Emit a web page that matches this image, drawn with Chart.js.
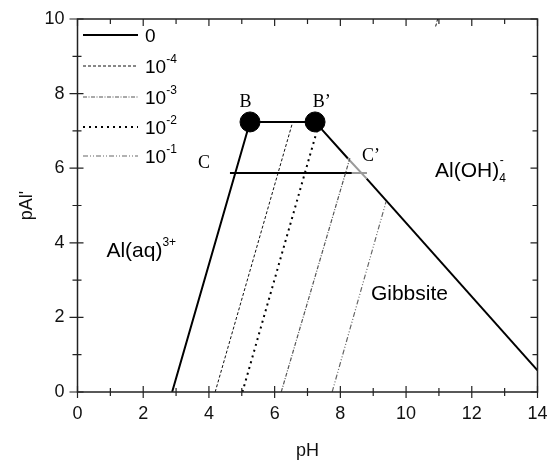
<!DOCTYPE html>
<html>
<head>
<meta charset="utf-8">
<script src="https://cdn.jsdelivr.net/npm/chart.js@4.4.1/dist/chart.umd.min.js"></script>
<style>
  html, body { margin: 0; padding: 0; background: #fff; }
  #wrap { width: 550px; height: 463px; }
</style>
</head>
<body>
<div id="wrap"><canvas id="c" width="550" height="463"></canvas></div>
<script>
// Al solubility boundaries: pAl' versus pH
const xTicks = [0, 2, 4, 6, 8, 10, 12, 14];
const yTicks = [0, 2, 4, 6, 8, 10];

// total ligand 0: Al3+ / gibbsite / Al(OH)4- boundary
const pH0a  = [2.88, 5.25, 7.23, 8.23];
const pAl0a = [0, 7.24, 7.24, 6.26];
const pH0b  = [8.80, 14];
const pAl0b = [5.72, 0.58];

// line C - C'
const pHC   = [4.64, 8.35];
const pAlC  = [5.87, 5.87];
const pHCg  = [8.35, 8.81];
const pAlCg = [5.87, 5.87];
const pHDg  = [8.23, 8.80];
const pAlDg = [6.26, 5.72];

// other ligand concentrations
const pH1e4  = [4.19, 6.55];
const pAl1e4 = [0, 7.24];
const pH1e3  = [6.20, 8.29];
const pAl1e3 = [0, 6.27];
const pH1e2  = [5.02, 7.28];
const pAl1e2 = [0, 6.98];
const pH1e1  = [7.75, 9.39];
const pAl1e1 = [0, 5.10];
const pHTop  = [10.90, 10.96];
const pAlTop = [9.80, 10.0];

// points B and B'
const pHB  = [5.25, 7.23];
const pAlB = [7.24, 7.24];

const pts = (xs, ys) => xs.map((x, i) => ({ x: x, y: ys[i] }));

const styles = {
  s0:   { color: '#000', width: 2,   dash: [] },
  s1e4: { color: '#111', width: 1,   dash: [3, 2] },
  s1e3: { color: '#555', width: 1.2, dash: [4, 1.5, 1, 1.5] },
  s1e2: { color: '#000', width: 2,   dash: [2, 4] },
  s1e1: { color: '#666', width: 1.2, dash: [5, 2, 1, 2, 1, 2] },
  gray: { color: '#9a9a9a', width: 2, dash: [] }
};

function lineSet(xs, ys, st) {
  return {
    data: pts(xs, ys),
    borderColor: st.color,
    borderWidth: st.width,
    borderDash: st.dash,
    pointRadius: 0,
    fill: false,
    tension: 0
  };
}

const datasets = [
  lineSet(pH1e4, pAl1e4, styles.s1e4),
  lineSet(pH1e3, pAl1e3, styles.s1e3),
  lineSet(pH1e2, pAl1e2, styles.s1e2),
  lineSet(pH1e1, pAl1e1, styles.s1e1),
  lineSet(pHTop, pAlTop, styles.s1e4),
  lineSet(pHCg, pAlCg, styles.gray),
  lineSet(pHDg, pAlDg, styles.gray),
  lineSet(pHC, pAlC, styles.s0),
  lineSet(pH0a, pAl0a, styles.s0),
  lineSet(pH0b, pAl0b, styles.s0),
  {
    data: pts(pHB, pAlB),
    showLine: false,
    pointRadius: 10,
    pointHoverRadius: 10,
    pointBackgroundColor: '#000',
    pointBorderColor: '#000'
  }
];

const legendItems = [
  { st: styles.s0,   base: '0',  sup: '' },
  { st: styles.s1e4, base: '10', sup: '-4' },
  { st: styles.s1e3, base: '10', sup: '-3' },
  { st: styles.s1e2, base: '10', sup: '-2' },
  { st: styles.s1e1, base: '10', sup: '-1' }
];

const SANS = "'Liberation Sans', Arial, sans-serif";
const SERIF = "'Liberation Serif', 'Times New Roman', serif";

function textWithScripts(ctx, x, y, parts) {
  // parts: [{t, size, dy, gap}] drawn left to right from x, baseline y
  let cx = x;
  parts.forEach(p => {
    ctx.font = p.size + 'px ' + SANS;
    ctx.fillText(p.t, cx, y + (p.dy || 0));
    cx += ctx.measureText(p.t).width + (p.gap || 0);
  });
}

const decor = {
  id: 'decor',
  afterDatasetsDraw(chart) {
    const ctx = chart.ctx;
    const a = chart.chartArea;
    const xs = chart.scales.x, ys = chart.scales.y;
    ctx.save();
    ctx.strokeStyle = '#222';
    ctx.lineWidth = 1.5;
    ctx.setLineDash([]);
    ctx.strokeRect(a.left, a.top, a.right - a.left, a.bottom - a.top);

    // tick marks
    ctx.lineWidth = 1.2;
    ctx.beginPath();
    for (let v = 0; v <= 14; v++) {
      const px = xs.getPixelForValue(v);
      const major = v % 2 === 0;
      ctx.moveTo(px, a.bottom - (major ? 6 : 4));
      ctx.lineTo(px, a.bottom + (major ? 6 : 4));
      ctx.moveTo(px, a.top);
      ctx.lineTo(px, a.top + (major ? 7 : 5));
    }
    for (let v = 0; v <= 10; v++) {
      const py = ys.getPixelForValue(v);
      const major = v % 2 === 0;
      ctx.moveTo(a.left - (major ? 8 : 5), py);
      ctx.lineTo(a.left + (major ? 6 : 4), py);
      ctx.moveTo(a.right, py);
      ctx.lineTo(a.right - (major ? 7 : 5), py);
    }
    ctx.stroke();

    // axis titles
    ctx.fillStyle = '#111';
    ctx.font = '18px ' + SANS;
    ctx.textAlign = 'center';
    ctx.textBaseline = 'middle';
    ctx.fillText('pH', (a.left + a.right) / 2, 451);
    ctx.save();
    ctx.translate(27, (a.top + a.bottom) / 2);
    ctx.rotate(-Math.PI / 2);
    ctx.fillText("pAl'", 0, 0);
    ctx.restore();

    // legend
    ctx.textAlign = 'left';
    ctx.textBaseline = 'alphabetic';
    const rows = [35, 66, 97, 127, 156];
    legendItems.forEach((it, i) => {
      const y = rows[i];
      ctx.strokeStyle = it.st.color;
      ctx.lineWidth = it.st.width;
      ctx.setLineDash(it.st.dash);
      ctx.beginPath();
      ctx.moveTo(83, y);
      ctx.lineTo(138, y);
      ctx.stroke();
      ctx.setLineDash([]);
      ctx.fillStyle = '#000';
      const parts = [{ t: it.base, size: 19 }];
      if (it.sup) parts.push({ t: it.sup, size: 12, dy: -10 });
      textWithScripts(ctx, 145, y + 7, parts);
    });

    // region and point labels
    const px = v => xs.getPixelForValue(v);
    const py = v => ys.getPixelForValue(v);
    ctx.fillStyle = '#000';
    ctx.font = '18px ' + SERIF;
    ctx.textAlign = 'center';
    ctx.textBaseline = 'middle';
    ctx.fillText('B', px(5.11), py(7.76));
    ctx.fillText('B\u2019', px(7.43), py(7.76));
    ctx.fillText('C', px(3.85), py(6.14));
    ctx.fillText('C\u2019', px(8.93), py(6.33));

    ctx.textAlign = 'left';
    ctx.textBaseline = 'alphabetic';
    textWithScripts(ctx, px(10.88), py(5.77), [
      { t: 'Al(OH)', size: 21 },
      { t: '4', size: 12, dy: 5, gap: -6 },
      { t: '-', size: 12, dy: -13 }
    ]);
    textWithScripts(ctx, px(0.88), py(3.63), [
      { t: 'Al(aq)', size: 21 },
      { t: '3+', size: 12, dy: -11 }
    ]);
    textWithScripts(ctx, px(8.93), py(2.47), [{ t: 'Gibbsite', size: 21 }]);
    ctx.restore();
  }
};

new Chart(document.getElementById('c'), {
  type: 'line',
  data: { datasets: datasets },
  options: {
    responsive: false,
    animation: false,
    events: [],
    layout: { padding: { top: 19, right: 12.5, left: 0, bottom: 0 } },
    plugins: { legend: { display: false }, tooltip: { enabled: false } },
    scales: {
      x: {
        type: 'linear',
        min: 0, max: 14,
        afterFit: s => { s.height = 71; s.paddingLeft = 0; s.paddingRight = 0; },
        afterBuildTicks: s => { s.ticks = xTicks.map(v => ({ value: v })); },
        grid: { display: false, drawTicks: false },
        border: { display: false },
        ticks: { padding: 11, color: '#111', font: { family: SANS, size: 18 }, maxRotation: 0 }
      },
      y: {
        type: 'linear',
        min: 0, max: 10,
        afterFit: s => { s.width = 77.5; s.paddingTop = 0; s.paddingBottom = 0; },
        afterBuildTicks: s => { s.ticks = yTicks.map(v => ({ value: v })); },
        grid: { display: false, drawTicks: false },
        border: { display: false },
        ticks: { padding: 13, color: '#111', font: { family: SANS, size: 18 } }
      }
    }
  },
  plugins: [decor]
});
</script>
</body>
</html>
